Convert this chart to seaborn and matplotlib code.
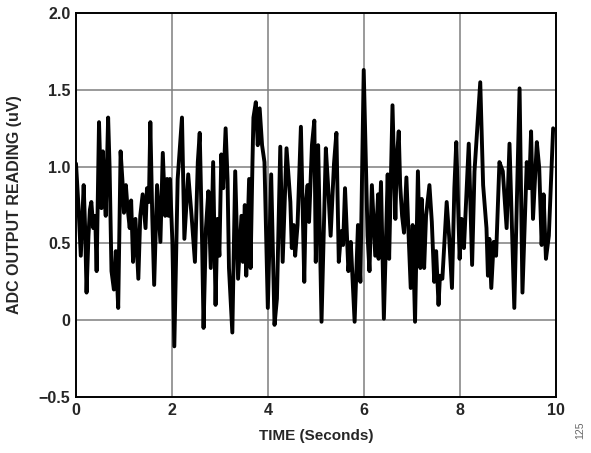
import numpy as np
import pandas as pd
import seaborn as sns
import matplotlib
matplotlib.use('Agg')
import matplotlib.pyplot as plt

# 时间 (s) 和 ADC 读数 (uV)，从图上读取的转折点
time_s = [0.00, 0.05, 0.10, 0.16, 0.19, 0.22, 0.26, 0.29, 0.32, 0.36, 0.40, 0.43, 0.48, 0.53, 0.56, 0.59, 0.62,
          0.67, 0.70, 0.74, 0.79, 0.83, 0.88, 0.93, 0.97, 1.00, 1.04, 1.07, 1.12, 1.15, 1.19, 1.24, 1.30, 1.34,
          1.39, 1.45, 1.48, 1.52, 1.55, 1.59, 1.63, 1.69, 1.76, 1.81, 1.86, 1.90, 1.93, 1.96, 2.01, 2.05, 2.12,
          2.21, 2.26, 2.34, 2.41, 2.48, 2.54, 2.58, 2.63, 2.66, 2.71, 2.76, 2.81, 2.86, 2.91, 2.95, 2.99, 3.03,
          3.07, 3.12, 3.16, 3.19, 3.26, 3.32, 3.38, 3.45, 3.48, 3.52, 3.55, 3.61, 3.64, 3.68, 3.70, 3.75, 3.79,
          3.83, 3.88, 3.93, 4.00, 4.07, 4.14, 4.19, 4.26, 4.31, 4.39, 4.47, 4.50, 4.54, 4.57, 4.62, 4.69, 4.76,
          4.79, 4.83, 4.86, 4.92, 4.97, 5.00, 5.05, 5.12, 5.21, 5.26, 5.31, 5.35, 5.38, 5.43, 5.48, 5.53, 5.57,
          5.61, 5.68, 5.73, 5.81, 5.88, 5.93, 6.00, 6.08, 6.12, 6.17, 6.24, 6.30, 6.31, 6.36, 6.42, 6.50, 6.53,
          6.60, 6.66, 6.69, 6.73, 6.76, 6.80, 6.84, 6.89, 6.93, 6.98, 7.02, 7.07, 7.13, 7.18, 7.21, 7.26, 7.30,
          7.37, 7.42, 7.47, 7.51, 7.56, 7.59, 7.64, 7.73, 7.78, 7.84, 7.89, 7.93, 8.00, 8.04, 8.09, 8.19, 8.26,
          8.31, 8.43, 8.49, 8.56, 8.59, 8.62, 8.66, 8.71, 8.76, 8.83, 8.90, 8.98, 9.04, 9.14, 9.25, 9.31, 9.40,
          9.45, 9.49, 9.53, 9.61, 9.66, 9.71, 9.75, 9.80, 9.86, 9.95]
adc_uv = [1.02, 0.75, 0.42, 0.88, 0.60, 0.18, 0.55, 0.72, 0.77, 0.60, 0.68, 0.32, 1.29, 0.73, 1.10, 0.85, 0.68,
          1.32, 1.00, 0.32, 0.20, 0.45, 0.08, 1.10, 0.90, 0.70, 0.88, 0.75, 0.60, 0.78, 0.38, 0.66, 0.27, 0.68,
          0.82, 0.60, 0.86, 0.77, 1.29, 0.68, 0.23, 0.88, 0.51, 1.09, 0.68, 0.92, 0.68, 0.92, 0.51, -0.17, 0.92,
          1.32, 0.53, 0.95, 0.68, 0.38, 1.03, 1.22, 0.50, -0.05, 0.60, 0.84, 0.34, 1.03, 0.10, 0.66, 0.42, 1.08,
          0.86, 1.25, 0.92, 0.34, -0.08, 0.97, 0.27, 0.68, 0.38, 0.75, 0.29, 0.92, 0.34, 1.03, 1.32, 1.42, 1.14,
          1.38, 1.14, 1.03, 0.08, 0.95, -0.03, 0.14, 1.13, 0.38, 1.12, 0.77, 0.47, 0.62, 0.42, 0.62, 1.26, 0.25,
          0.75, 0.88, 0.64, 1.14, 1.30, 0.38, 1.14, -0.01, 1.12, 0.86, 0.55, 0.81, 1.02, 1.22, 0.38, 0.58, 0.49,
          0.86, 0.32, 0.51, -0.01, 0.62, 0.25, 1.63, 0.55, 0.32, 0.88, 0.42, 0.82, 0.40, 0.90, 0.01, 0.95, 0.40,
          1.40, 0.66, 1.05, 1.23, 0.88, 0.68, 0.57, 0.93, 0.60, 0.21, 0.62, -0.01, 0.97, 0.34, 0.79, 0.34, 0.68,
          0.88, 0.64, 0.25, 0.45, 0.10, 0.29, 0.27, 0.77, 0.55, 0.21, 0.86, 1.16, 0.40, 0.66, 0.47, 1.15, 0.36,
          0.97, 1.55, 0.88, 0.60, 0.29, 0.53, 0.21, 0.51, 0.42, 1.03, 0.97, 0.60, 1.15, 0.08, 1.51, 0.18, 1.03,
          0.86, 1.23, 0.66, 1.16, 0.99, 0.49, 0.82, 0.40, 0.55, 1.25]

x_ticks = [0, 2, 4, 6, 8, 10]
y_ticks = [-0.5, 0, 0.5, 1.0, 1.5, 2.0]
y_labels = ['\u22120.5', '0', '0.5', '1.0', '1.5', '2.0']

df = pd.DataFrame({'t': time_s, 'v': adc_uv})

sns.set_style('white')
plt.rcParams['font.family'] = ['Liberation Sans', 'DejaVu Sans']

fig = plt.figure(figsize=(5.91, 4.53), dpi=100)
ax = fig.add_axes([0.1286, 0.1236, 0.8114, 0.8474])

# 网格线
for x in [2, 4, 6, 8]:
    ax.axvline(x, color='#7f7f7f', lw=1.1, zorder=1)
for y in [0, 0.5, 1.0, 1.5]:
    ax.axhline(y, color='#7f7f7f', lw=1.1, zorder=1)

sns.lineplot(data=df, x='t', y='v', ax=ax, color='black', lw=2.8, zorder=3)

ax.set_xlim(0, 10)
ax.set_ylim(-0.5, 2.0)
ax.set_xticks(x_ticks)
ax.set_xticklabels([str(v) for v in x_ticks])
ax.set_yticks(y_ticks)
ax.set_yticklabels(y_labels)
ax.tick_params(length=0, labelsize=11.5, pad=4)
for lab in ax.get_xticklabels() + ax.get_yticklabels():
    lab.set_fontweight('bold')
for s in ax.spines.values():
    s.set_color('black')
    s.set_linewidth(1.4)

ax.set_xlabel('TIME (Seconds)', fontsize=11, fontweight='bold', labelpad=8)
ax.set_ylabel('ADC OUTPUT READING (uV)', fontsize=11.5, fontweight='bold', labelpad=12)

fig.text(0.982, 0.03, '125', rotation=90, fontsize=7.5, color='#666666', ha='center', va='bottom')

fig.savefig('out.png', dpi=100)
